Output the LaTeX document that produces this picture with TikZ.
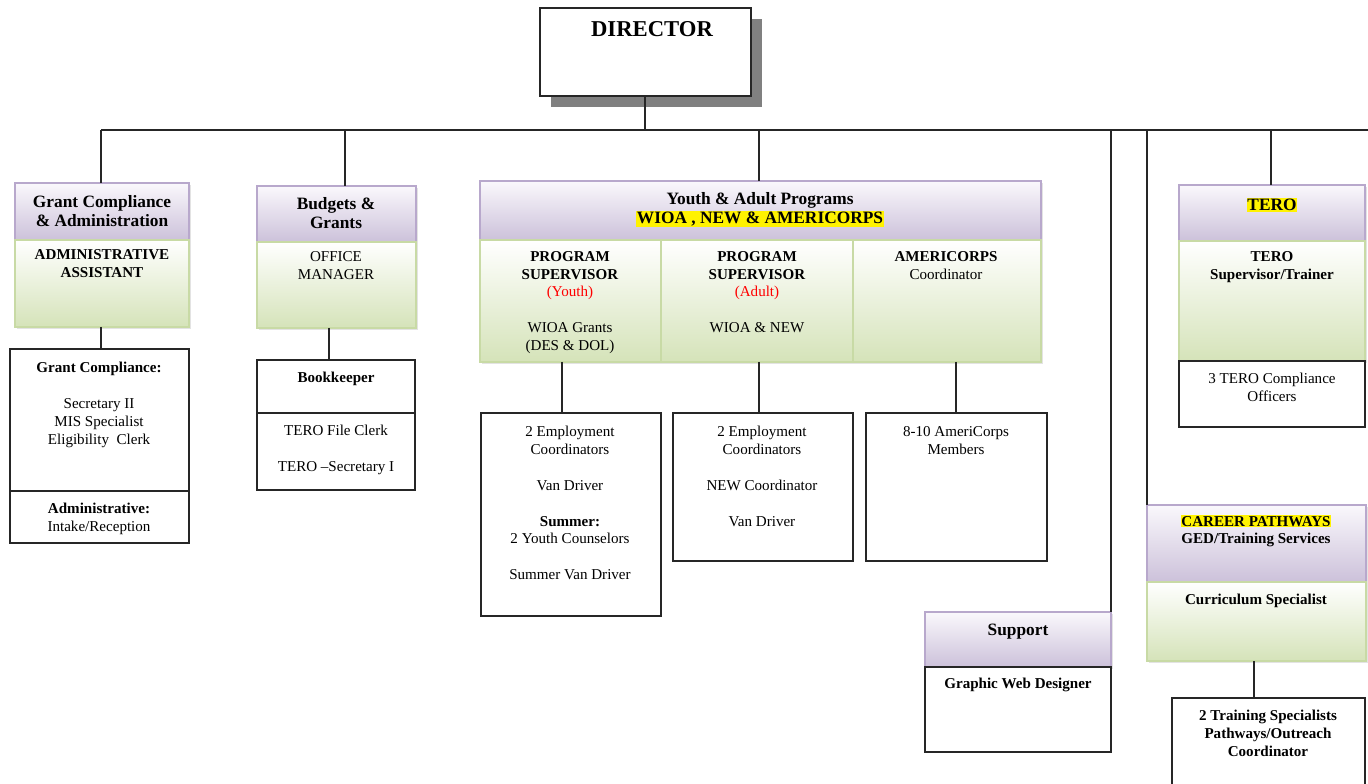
\documentclass[tikz,border=0pt]{standalone}
\usepackage{fontspec}
\setmainfont{Liberation Serif}
\usetikzlibrary{shadows}
\definecolor{hdrtop}{RGB}{250,248,252}
\definecolor{hdrbot}{RGB}{204,193,218}
\definecolor{hdrline}{RGB}{184,168,204}
\definecolor{grnbot}{RGB}{213,227,185}
\definecolor{grnline}{RGB}{200,218,165}
\definecolor{dshadow}{RGB}{128,128,128}
\newcommand{\hlt}[1]{{\setlength{\fboxsep}{0.6pt}\colorbox{yellow}{#1}}}
\newcommand{\bx}[6]{\node[#2, minimum width=#5*0.75pt, minimum height=#6*0.75pt] (#1) at (#3,#4) {};}
\tikzset{
  box/.style={rectangle, anchor=north west, inner sep=0pt, outer sep=0pt},
  hdr/.style={box, draw=hdrline, line width=1.1pt, top color=hdrtop, bottom color=hdrbot,
              drop shadow={shadow xshift=1.5pt, shadow yshift=-1.5pt, fill=black!22}},
  grn/.style={box, draw=grnline, line width=0.9pt, top color=white, bottom color=grnbot,
              drop shadow={shadow xshift=1.5pt, shadow yshift=-1.5pt, fill=black!22}},
  wbox/.style={box, draw=black!85, line width=0.9pt, fill=white},
  dbox/.style={box, draw=black!85, line width=0.9pt, fill=white,
              drop shadow={shadow xshift=8.5pt, shadow yshift=-8.5pt, fill=dshadow, opacity=1}},
  conn/.style={draw=black!85, line width=0.9pt},
  ht/.style={font=\fontsize{13}{14.3}\selectfont\bfseries, align=center, anchor=north, inner sep=0pt},
  bt/.style={font=\fontsize{11.3}{13.4}\selectfont, align=center, anchor=north, inner sep=0pt},
  bb/.style={bt, font=\fontsize{11.3}{13.4}\selectfont\bfseries},
}
\begin{document}
\begin{tikzpicture}[x=0.75pt,y=-0.75pt]
\useasboundingbox (0,0) rectangle (1368,784);

% ---------- boxes ----------
\bx{gch}{hdr}{15}{183}{174}{57}
\bx{gcg}{grn}{15}{240}{174}{87}
\bx{gcl}{wbox}{10}{349}{179}{142}
\bx{gcl2}{wbox}{10}{491}{179}{52}

\bx{bgh}{hdr}{257}{186}{159}{56}
\bx{bgg}{grn}{257}{242}{159}{86}
\bx{bk}{wbox}{257}{360}{158}{53}
\bx{bk2}{wbox}{257}{413}{158}{77}

\bx{yh}{hdr}{480}{181}{561}{59}
\bx{yg1}{grn}{480}{240}{181}{122}
\bx{yg2}{grn}{661}{240}{192}{122}
\bx{yg3}{grn}{853}{240}{188}{122}
\bx{ya}{wbox}{481}{413}{180}{203}
\bx{yb}{wbox}{673}{413}{180}{148}
\bx{yc}{wbox}{866}{413}{181}{148}

\bx{th}{hdr}{1179}{185}{186}{56}
\bx{tg}{grn}{1179}{241}{186}{120}
\bx{tl}{wbox}{1179}{361}{186}{66}

\bx{sh}{hdr}{925}{612}{186}{55}
\bx{sl}{wbox}{925}{667}{186}{85}

\bx{ch}{hdr}{1147}{505}{219}{77}
\bx{cg}{grn}{1147}{582}{219}{79}
\bx{cl}{wbox}{1172}{698}{193}{96}

\bx{dir}{dbox}{540}{8}{211}{88}

% ---------- connectors ----------
\coordinate (busL) at (101,130);
\coordinate (busR) at (1368,130);
\coordinate (t2) at (345,130);
\coordinate (t3) at (759,130);
\coordinate (t4) at (1111,130);
\coordinate (t5) at (1147,130);
\coordinate (t6) at (1271,130);
\coordinate (x0) at (645,0);
\coordinate (x2) at (329,0);
\coordinate (xa) at (562,0);
\coordinate (xb) at (759,0);
\coordinate (xc) at (956,0);
\coordinate (xd) at (1254,0);
\coordinate (xg) at (101,0);

\draw[conn] (busL) -- (busR);
\draw[conn] (dir.south -| x0) -- (busL -| x0);
\draw[conn] (busL) -- (busL |- gch.north);
\draw[conn] (t2) -- (t2 |- bgh.north);
\draw[conn] (t3) -- (t3 |- yh.north);
\draw[conn] (t4) -- (sh.north east);
\draw[conn] (t5) -- (ch.north west);
\draw[conn] (t6) -- (t6 |- th.north);
\draw[conn] (gcg.south -| xg) -- (gcl.north -| xg);
\draw[conn] (bgg.south -| x2) -- (bk.north -| x2);
\draw[conn] (yg1.south -| xa) -- (ya.north -| xa);
\draw[conn] (yg2.south -| xb) -- (yb.north -| xb);
\draw[conn] (yg3.south -| xc) -- (yc.north -| xc);
\draw[conn] (cg.south -| xd) -- (cl.north -| xd);

% ---------- texts ----------
\node[ht, font=\fontsize{17}{19}\selectfont\bfseries] (dirt) at (652,21) {DIRECTOR};

\node[ht] (gcht) at (102,195) {Grant Compliance\\\& Administration};
\node[bb] (gcgt) at (102,249) {ADMINISTRATIVE\\ASSISTANT};
\node[bt] (gclt) at (99,362) {\textbf{Grant Compliance:}\\[13.4pt]Secretary II\\MIS Specialist\\Eligibility~~Clerk};
\node[bt] (gcl2t) at (99,503) {\textbf{Administrative:}\\Intake/Reception};

\node[ht] (bght) at (336,197) {Budgets \&\\Grants};
\node[bt] (bggt) at (336,251) {OFFICE\\MANAGER};
\node[bb] (bkt) at (336,372) {Bookkeeper};
\node[bt] (bk2t) at (336,425) {TERO File Clerk\\[13.4pt]TERO --Secretary I};

\node[ht] (yht) at (760,192) {Youth \& Adult Programs\\\hlt{WIOA , NEW \& AMERICORPS}};
\node[bt] (yg1t) at (570,251) {\textbf{PROGRAM}\\\textbf{SUPERVISOR}\\\textcolor{red}{(Youth)}\\[13.4pt]WIOA Grants\\(DES \& DOL)};
\node[bt] (yg2t) at (757,251) {\textbf{PROGRAM}\\\textbf{SUPERVISOR}\\\textcolor{red}{(Adult)}\\[13.4pt]WIOA \& NEW};
\node[bt] (yg3t) at (946,251) {\textbf{AMERICORPS}\\Coordinator};
\node[bt] (yat) at (570,426) {2 Employment\\Coordinators\\[13.4pt]Van Driver\\[13.4pt]\textbf{Summer:}\\2 Youth Counselors\\[13.4pt]Summer Van Driver};
\node[bt] (ybt) at (762,426) {2 Employment\\Coordinators\\[13.4pt]NEW Coordinator\\[13.4pt]Van Driver};
\node[bt] (yct) at (956,426) {8-10 AmeriCorps\\Members};

\node[ht] (tht) at (1272,198) {\hlt{TERO}};
\node[bb] (tgt) at (1272,251) {TERO\\Supervisor/Trainer};
\node[bt] (tlt) at (1272,373) {3 TERO Compliance\\Officers};

\node[ht] (sht) at (1018,624) {Support};
\node[bb] (slt) at (1018,678) {Graphic Web Designer};

\node[bb] (cht) at (1256,515) {\hlt{CAREER PATHWAYS}\\GED/Training Services};
\node[bb] (cgt) at (1256,594) {Curriculum Specialist};
\node[bb] (clt) at (1268,710) {2 Training Specialists\\Pathways/Outreach\\Coordinator};
\end{tikzpicture}
\end{document}
